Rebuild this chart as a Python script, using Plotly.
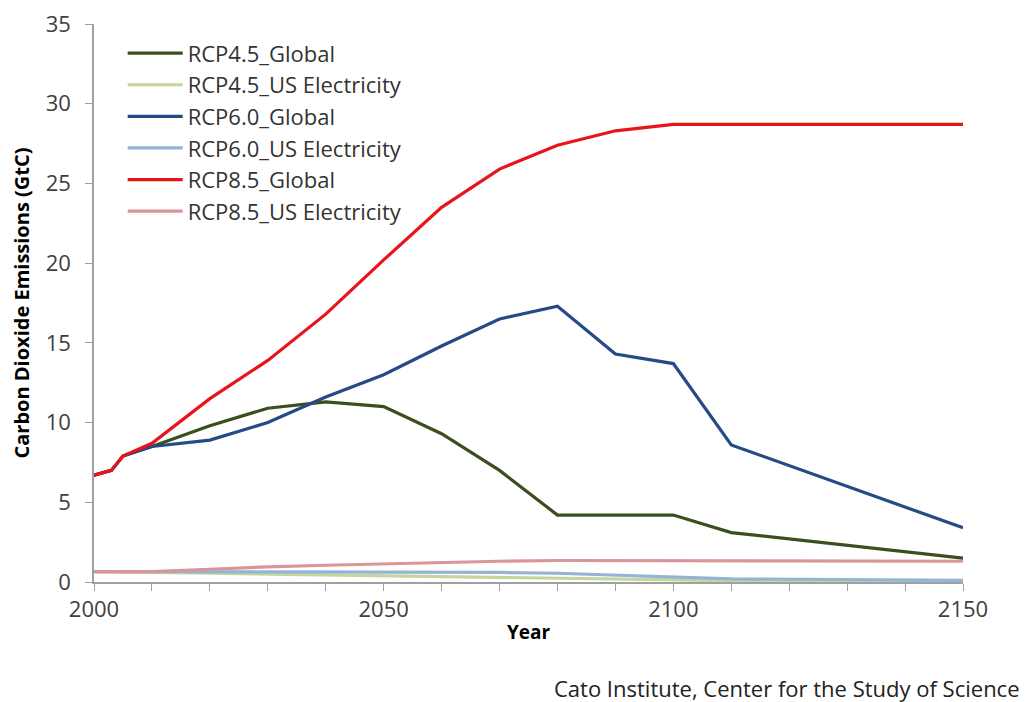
import plotly.graph_objects as go

years = [2000, 2003, 2005, 2010, 2020, 2030, 2040, 2050, 2060, 2070, 2080, 2090, 2100, 2110, 2150]

rcp45_global = [6.7, 7.0, 7.9, 8.5, 9.8, 10.9, 11.3, 11.0, 9.3, 7.0, 4.2, 4.2, 4.2, 3.1, 1.5]
rcp45_us = [0.65, 0.65, 0.65, 0.6, 0.55, 0.5, 0.45, 0.4, 0.35, 0.3, 0.2, 0.15, 0.1, 0.08, 0.05]
rcp60_global = [6.7, 7.0, 7.9, 8.5, 8.9, 10.0, 11.6, 13.0, 14.8, 16.5, 17.3, 14.3, 13.7, 8.6, 3.4]
rcp60_us = [0.65, 0.65, 0.65, 0.62, 0.6, 0.6, 0.6, 0.6, 0.6, 0.6, 0.55, 0.45, 0.35, 0.2, 0.1]
rcp85_global = [6.7, 7.0, 7.9, 8.7, 11.5, 13.9, 16.8, 20.2, 23.5, 25.9, 27.4, 28.3, 28.7, 28.7, 28.7]
rcp85_us = [0.65, 0.65, 0.65, 0.65, 0.8, 0.95, 1.05, 1.15, 1.2, 1.3, 1.35, 1.35, 1.3, 1.3, 1.3]

names = ["RCP4.5_Global", "RCP4.5_US Electricity", "RCP6.0_Global",
         "RCP6.0_US Electricity", "RCP8.5_Global", "RCP8.5_US Electricity"]
series = [rcp45_global, rcp45_us, rcp60_global, rcp60_us, rcp85_global, rcp85_us]
colors = ["#3b4f1e", "#c3d69b", "#254a86", "#95b3d7", "#e8141c", "#d9959a"]

fig = go.Figure()
# draw US lines first, then globals on top, but keep legend order
order = [1, 3, 5, 0, 2, 4]
for i in order:
    fig.add_trace(go.Scatter(
        x=years, y=series[i], mode="lines", name=names[i],
        line=dict(color=colors[i], width=3.2),
        legendrank=i + 1, legendgroup=names[i],
    ))

font_family = "'Open Sans', Lato, 'Liberation Sans', sans-serif"
fig.update_layout(
    width=1021, height=694,
    margin=dict(l=86, r=66, t=16, b=120, autoexpand=False),
    paper_bgcolor="white", plot_bgcolor="white",
    font=dict(family=font_family, color="#404040"),
    showlegend=True,
    legend=dict(x=0.033, y=0.985, xanchor="left", yanchor="top",
                bgcolor="rgba(0,0,0,0)", font=dict(size=22, color="#333333"),
                itemwidth=55, tracegroupgap=0, traceorder="grouped"),
    xaxis=dict(range=[2000, 2150], tickvals=[2000, 2050, 2100, 2150],
               automargin=False, ticklabeloverflow="allow",
               ticks="outside", ticklen=7, tickcolor="#a0a0a0",
               minor=dict(dtick=10, ticks="outside", ticklen=7, tickcolor="#a0a0a0"),
               showline=True, linecolor="#a0a0a0", linewidth=1.5,
               showgrid=False, zeroline=False,
               tickfont=dict(size=22, color="#404040"),
               title=dict(text="<b>Year</b>", font=dict(size=19, color="#000000"), standoff=4)),
    yaxis=dict(range=[0, 35], tickvals=[0, 5, 10, 15, 20, 25, 30, 35],
               ticks="outside", ticklen=7, tickcolor="#a0a0a0",
               automargin=False, ticklabelstandoff=10, ticklabeloverflow="allow",
               showline=True, linecolor="#a0a0a0", linewidth=1.5,
               showgrid=False, zeroline=False,
               tickfont=dict(size=22, color="#404040"),
               title=dict(text="<b>Carbon Dioxide Emissions (GtC)</b>",
                          font=dict(size=20, color="#000000"), standoff=14)),
    annotations=[dict(text="Cato Institute, Center for the Study of Science",
                      xref="paper", yref="paper", x=1.068, y=-0.19,
                      xanchor="right", yanchor="middle", showarrow=False,
                      font=dict(size=22, color="#222222"))],
)

fig.write_html("out.html")
